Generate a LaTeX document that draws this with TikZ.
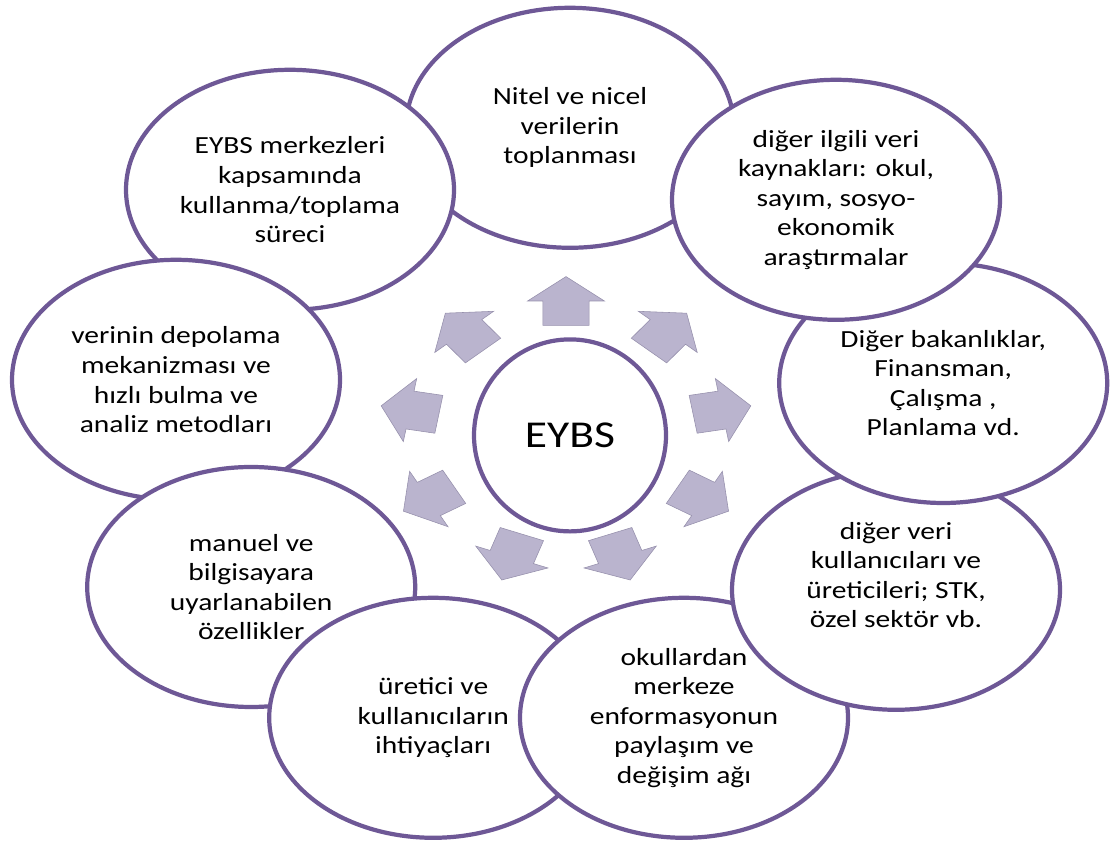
\documentclass[tikz,border=0pt]{standalone}
\usepackage{fontspec}
\setmainfont{Carlito}[FakeStretch=1.2]
\usepackage{tikz}
\usetikzlibrary{shapes,positioning}

\definecolor{ringpurple}{RGB}{110,88,150}
\definecolor{arrowfill}{RGB}{186,180,206}
\definecolor{arrowline}{RGB}{150,144,172}

\tikzset{
    bubble/.style={ellipse, draw=ringpurple, line width=3pt, fill=white,
        minimum width=8.2cm, minimum height=6cm, inner sep=0pt, align=center,
        font=\fontsize{17.5}{21}\selectfont},
    hub/.style={circle, draw=ringpurple, line width=3pt, fill=white,
        minimum size=4.8cm, inner sep=0pt, font=\fontsize{27}{32}\selectfont},
    blockarrow/.style={fill=arrowfill, draw=arrowline, line width=0.4pt}
}

\begin{document}
\begin{tikzpicture}
    \useasboundingbox (0,0) rectangle (27.8,21.075);

    % outer ring, each bubble laid over the one before
    \node[bubble] (nitel) at (14.25,17.88) {Nitel ve nicel\\verilerin\\toplanması};
    \node[bubble] (merkez) at (7.25,16.33) {EYBS merkezleri\\kapsamında\\kullanma/toplama\\süreci};
    \node[bubble] (depolama) at (4.40,11.58) {verinin depolama\\mekanizması ve\\hızlı bulma ve\\analiz metodları};
    \node[bubble] (manuel) at (6.28,6.40) {manuel ve\\bilgisayara\\uyarlanabilen\\özellikler};
    \node[bubble] (ihtiyac) at (10.83,3.13) {üretici ve\\kullanıcıların\\ihtiyaçları};
    \node[bubble] (paylasim) at (17.10,3.13) {okullardan\\merkeze\\enformasyonun\\paylaşım ve\\değişim ağı};
    \node[bubble] (kullanici) at (22.40,6.33) {diğer veri\\kullanıcıları ve\\üreticileri; STK,\\özel sektör vb.\\\mbox{}};
    \node[bubble] (bakanlik) at (23.58,11.50) {Diğer bakanlıklar,\\Finansman,\\Çalışma ,\\Planlama vd.};
    \node[bubble] (kaynak) at (20.90,16.08) {diğer ilgili veri\\kaynakları: okul,\\sayım, sosyo-\\ekonomik\\araştırmalar};

    % centre
    \node[hub] (eybs) at (14.25,10.19) {EYBS};

    \begin{scope}[shift={(14.15,10.25)}, xscale=1.2]
        \foreach \ang in {90,50,...,-230} {
            \draw[blockarrow, rotate=\ang] (2.69,-0.48) -- (3.3,-0.48) -- (3.3,-0.8) -- (3.91,0)
                -- (3.3,0.8) -- (3.3,0.48) -- (2.69,0.48) -- cycle;
        }
    \end{scope}
\end{tikzpicture}
\end{document}
